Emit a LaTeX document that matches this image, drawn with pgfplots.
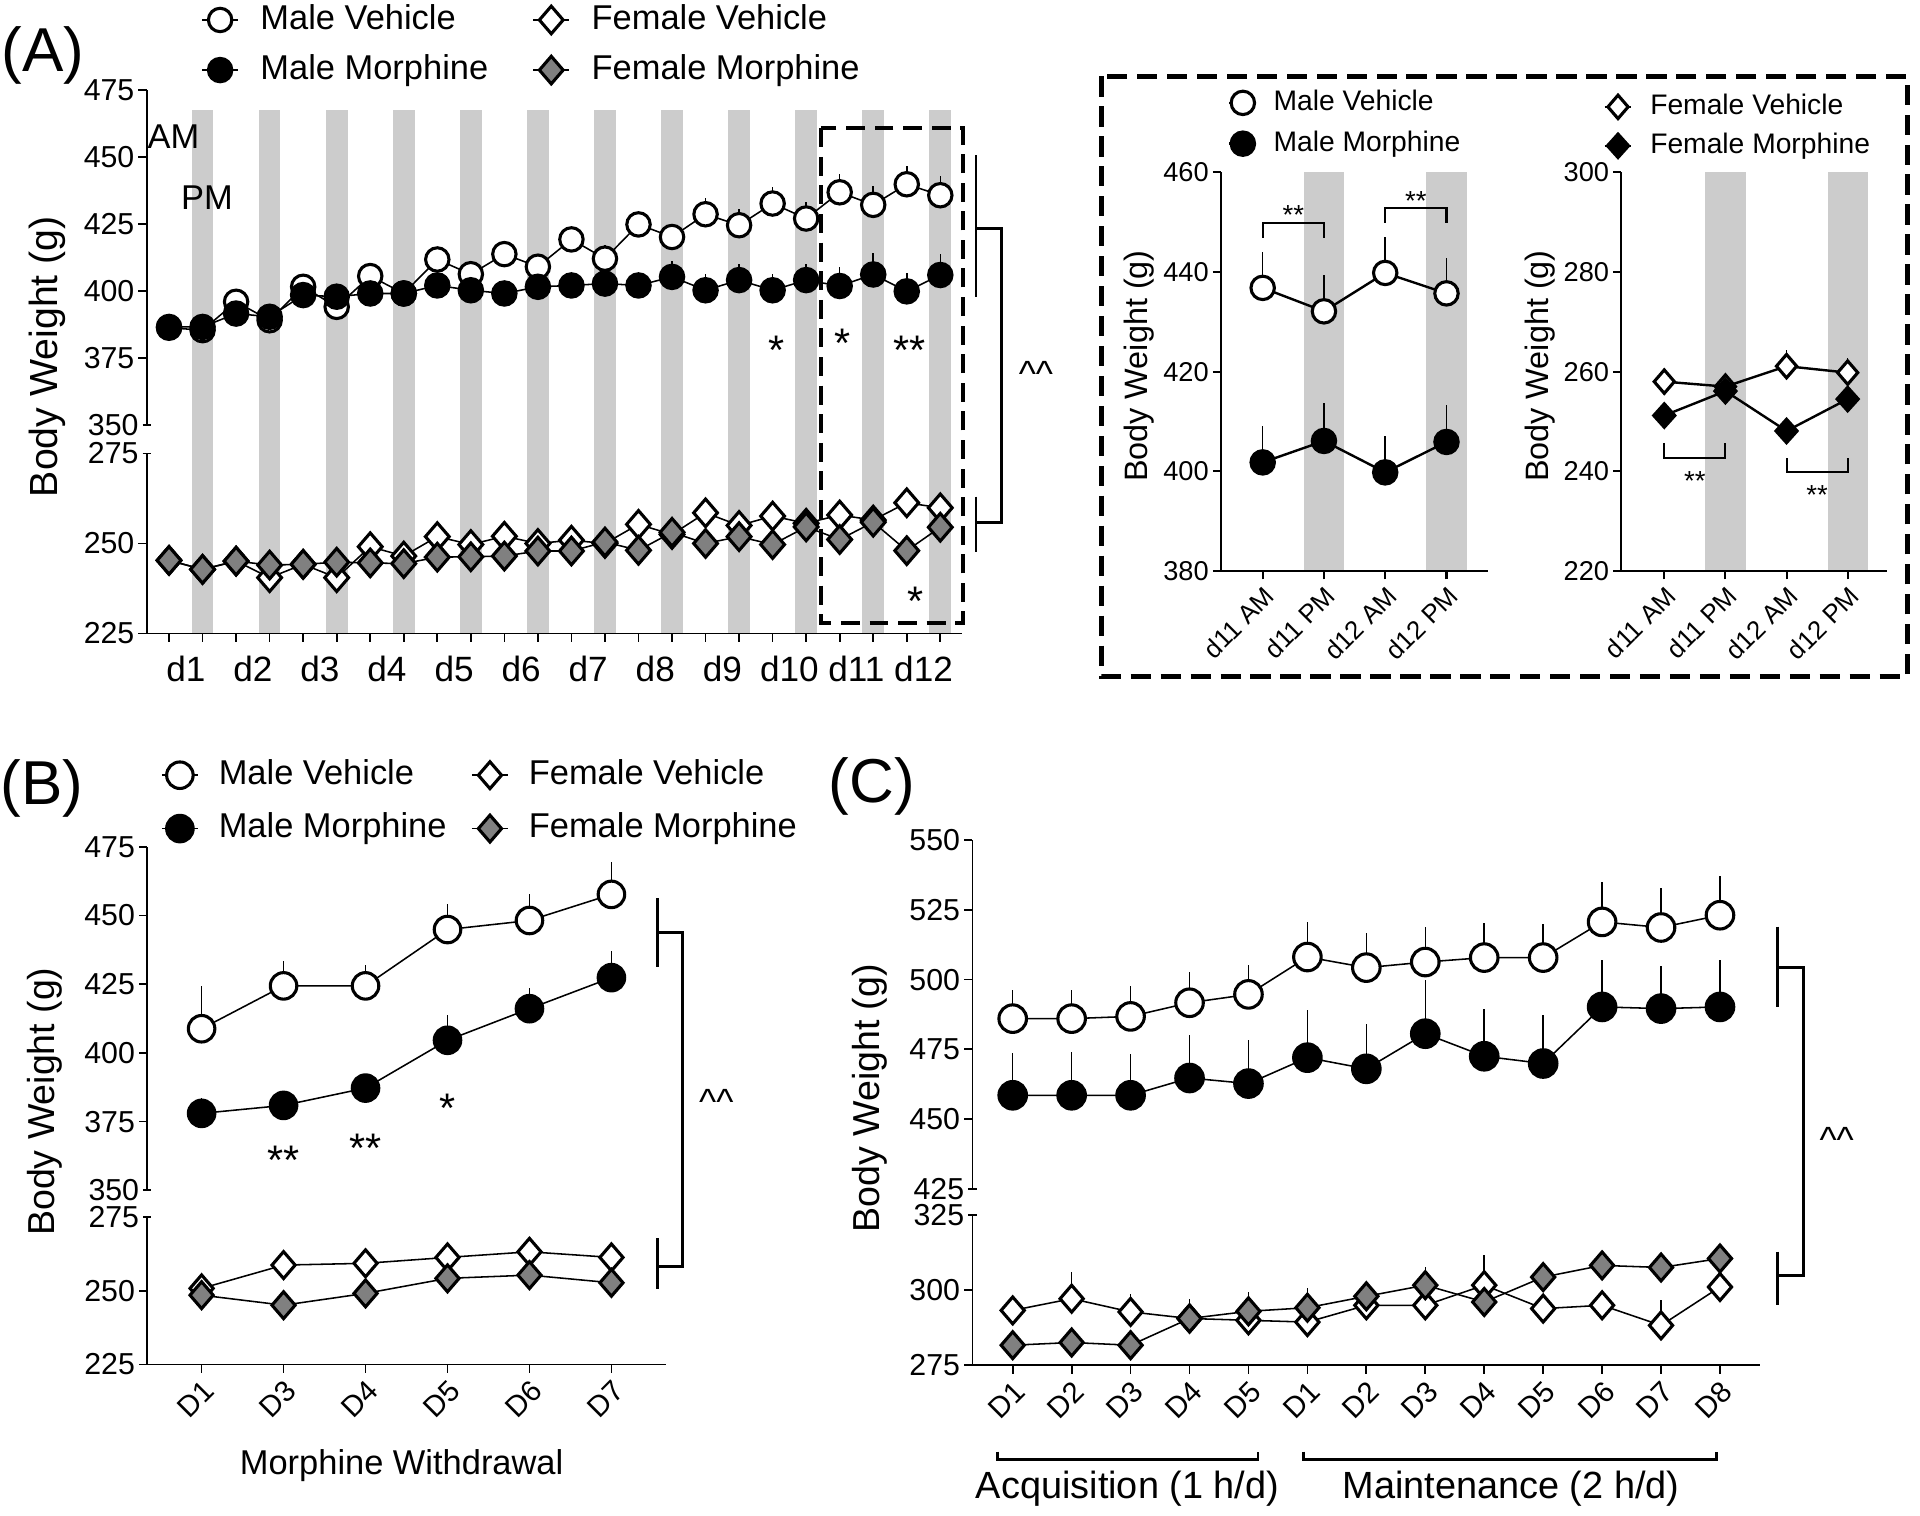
\documentclass[border=0pt]{standalone}
\usepackage{pgfplots}
\pgfplotsset{compat=1.18}
\usepackage{pgfplotstable}
\usepackage{fontspec}
\setmainfont{Liberation Sans}

\definecolor{band}{RGB}{204,204,204}
\definecolor{fmgray}{RGB}{128,128,128}
\newcommand{\fs}[1]{\fontsize{#1}{#1}\selectfont}

% (A) body weight, 12 days x AM/PM
\pgfplotstableread{
x  mv    mve mm    mme fv    fm
1  386.2 2   386.5 2   245.3 245.3
2  385.3 2   386.5 2   242.8 242.8
3  395.9 2   391.5 2   245.1 245.1
4  389.0 2   390.3 2   240.5 244.0
5  401.5 3   398.4 3   244.2 244.2
6  394.0 3   397.8 3   240.5 244.8
7  405.5 3   399.0 3   249.1 244.6
8  399.0 3   399.0 3   246.5 244.4
9  411.7 4   402.0 4   251.9 246.2
10 406.2 4   400.2 4   249.7 246.3
11 413.7 4   399.0 4   252.0 246.5
12 409.0 4   401.5 4   250.0 247.9
13 419.2 5   402.0 5   250.9 247.9
14 412.0 5   402.7 5   250.0 250.4
15 424.8 5   402.0 5   255.3 248.1
16 420.1 5   405.2 6   252.5 253.1
17 428.6 6   400.2 6   258.5 250.0
18 424.5 6   404.0 6   255.0 251.9
19 432.6 6   400.2 6   257.6 249.7
20 427.0 6   404.0 6   255.6 254.6
21 436.8 7   401.8 7   257.9 251.1
22 432.1 7   406.1 8   256.5 255.9
23 439.8 7   399.8 7   261.3 248.0
24 435.7 7   405.9 8   259.9 254.5
}\dataA

% inset, d11-d12
\pgfplotstableread{
x mv    mve mm    mme fv    fve fm    fme
1 436.8 7.2 401.8 7.2 258.0 2.5 251.2 2.0
2 432.1 7.2 406.1 7.6 257.0 2.5 256.1 2.0
3 439.8 7.3 399.8 7.2 261.1 3.3 248.1 2.0
4 435.7 7.1 405.9 7.5 259.8 2.9 254.5 2.5
}\dataI

% (B) withdrawal
\pgfplotstableread{
x mv    mve  mm    mme fv    fm
1 408.8 15.6 378.0 5.5 250.8 248.5
2 424.4 9.1  380.9 3.0 258.7 245.1
3 424.4 7.6  387.2 3.0 259.3 249.1
4 444.9 9.4  404.6 9.1 261.3 254.2
5 448.2 9.7  416.1 7.7 263.2 255.3
6 457.7 11.8 427.4 9.8 261.3 252.7
}\dataB

% (C) self-administration
\pgfplotstableread{
x  mv    mve  mm    mme  fv    fve  fm    fme
1  486.0 10.4 458.5 15.3 293.3 2.0  281.7 2.0
2  486.0 10.4 458.5 15.5 297.2 8.9  282.6 3.0
3  486.8 10.8 458.5 14.9 292.8 6.1  281.7 2.0
4  491.7 11.1 464.7 15.3 290.6 2.0  290.6 6.6
5  494.7 10.7 462.7 15.8 290.0 3.0  293.0 6.4
6  508.1 12.6 472.0 17.0 289.4 2.0  294.2 6.7
7  504.3 12.4 468.0 16.2 295.0 3.0  298.0 3.7
8  506.3 12.6 480.6 19.2 295.0 3.0  301.7 5.9
9  507.9 12.4 472.5 17.1 301.7 10.0 296.1 2.0
10 507.9 12.2 469.9 17.3 293.9 2.0  304.4 3.0
11 520.7 14.3 490.2 16.7 295.0 2.0  308.3 2.0
12 518.7 14.0 489.6 15.2 288.3 8.4  307.6 2.0
13 523.1 14.0 490.2 17.0 301.1 2.0  310.6 2.0
}\dataC

\pgfplotsset{
  every axis/.append style={scale only axis, clip=false,
    axis line style={line width=0.5pt},
    tick align=outside, major tick length=2.4pt,
    major tick style={black, line width=0.5pt},
    /pgf/number format/assume math mode=true,
    y tick label style={font=\fs{8.8}, inner sep=1pt},
    legend cell align=left},
  mvS/.style={black, line width=0.45pt, mark=*, mark size=#1,
    mark options={fill=white, line width=0.9pt}},
  mvS/.default=3.4pt,
  mmS/.style={black, line width=0.45pt, mark=*, mark size=#1,
    mark options={fill=black, line width=0.9pt}},
  mmS/.default=3.4pt,
  fvS/.style={black, line width=0.45pt, mark=diamond*, mark size=#1,
    mark options={fill=white, line width=0.9pt, xscale=1.15}},
  fvS/.default=4pt,
  fmS/.style={black, line width=0.45pt, mark=diamond*, mark size=#1,
    mark options={fill=fmgray, line width=0.9pt, xscale=1.15}},
  fmS/.default=4pt,
  fmiS/.style={black, line width=0.7pt, mark=diamond*, mark size=3.4pt,
    mark options={fill=black, line width=0.9pt, xscale=1.2}},
  errS/.style={only marks, mark=none, forget plot,
    error bars/.cd, y dir=plus, y explicit, error mark=none,
    error bar style={black, line width=0.45pt}},
}
\tikzset{
  star/.style={font=\fs{12}, anchor=base, yshift=-7pt, inner sep=0pt},
  istar/.style={font=\fs{8}, anchor=base, yshift=-4.6pt, inner sep=0pt},
  hat/.style={font=\fs{10.6}, anchor=base, yshift=-5.5pt, inner sep=0pt},
}

\begin{document}
\begin{tikzpicture}[x=0.0125cm, y=-0.0125cm]
\useasboundingbox (0,0) rectangle (1568,1238);

% ---------------- (A) lower part
\begin{axis}[at={(1.4975cm,-4.6275cm)}, anchor=north west, width=8.32cm, height=1.8375cm,
  axis x line*=bottom, axis y line*=left, axis on top,
  xmin=0.335, xmax=24.647, ymin=225, ymax=275,
  ytick={225,250}, extra y ticks={275}, extra y tick style={tick align=center},
  xtick={1,...,24}, xticklabels={},
  extra x ticks={1.5,3.5,...,23.5},
  extra x tick labels={d1,d2,d3,d4,d5,d6,d7,d8,d9,d10,d11,d12},
  extra x tick style={major tick length=0pt},
  x tick label style={font=\fs{10.2}, yshift=-3pt}]
\addplot[draw=band, line width=6.3pt, unbounded coords=jump, forget plot] coordinates {
 (2,225) (2,370.4) (3,nan) (4,225) (4,370.4) (5,nan) (6,225) (6,370.4) (7,nan)
 (8,225) (8,370.4) (9,nan) (10,225) (10,370.4) (11,nan) (12,225) (12,370.4) (13,nan)
 (14,225) (14,370.4) (15,nan) (16,225) (16,370.4) (17,nan) (18,225) (18,370.4) (19,nan)
 (20,225) (20,370.4) (21,nan) (22,225) (22,370.4) (23,nan) (24,225) (24,370.4)};
\addplot[fvS] table[x=x,y=fv]{\dataA};
\addplot[fmS] table[x=x,y=fm]{\dataA};
\node[star] at (axis cs:23.26,236.8) {*};
\end{axis}

% ---------------- (A) upper part
\begin{axis}[at={(1.4975cm,-0.91875cm)}, anchor=north west, width=8.32cm, height=3.415cm,
  axis x line=none, axis y line*=left,
  xmin=0.335, xmax=24.647, ymin=350, ymax=475,
  ytick={375,400,...,475}, extra y ticks={350}, extra y tick style={tick align=center},
  legend columns=2,
  legend image code/.code={\draw[mark repeat=2,mark phase=2,#1] plot coordinates {(0cm,0cm) (0.185cm,0cm) (0.37cm,0cm)};},
  legend style={draw=none, fill=none, at={(axis description cs:0.066,1.1345)}, anchor=west,
    font=\fs{10}, inner sep=0pt, row sep=4.75pt,
    nodes={inner sep=0pt, text height=7.6pt, text depth=2.2pt},
    /tikz/every odd column/.append style={column sep=0.219cm},
    /tikz/every even column/.append style={column sep=0.45cm}}]
\addlegendimage{mvS}\addlegendentry{Male Vehicle}
\addlegendimage{fvS}\addlegendentry{Female Vehicle}
\addlegendimage{mmS}\addlegendentry{Male Morphine}
\addlegendimage{fmS}\addlegendentry{Female Morphine}
\addplot[errS] table[x=x,y=mv,y error=mve]{\dataA};
\addplot[mvS, forget plot] table[x=x,y=mv]{\dataA};
\addplot[errS] table[x=x,y=mm,y error=mme]{\dataA};
\addplot[mmS, forget plot] table[x=x,y=mm]{\dataA};
\node[font=\fs{10}] at (axis cs:1.13,457.6) {AM};
\node[font=\fs{10}] at (axis cs:2.13,434.8) {PM};
\node[star] at (axis cs:19.13,381.5) {*};
\node[star] at (axis cs:21.07,384) {*};
\node[star] at (axis cs:23.07,381.5) {**};
\end{axis}

\node[rotate=90, font=\fs{11.4}] at (38.7,291.3) {Body Weight (g)};
\node[font=\fs{18}] at (35,45) {(A)};
\draw[line width=1.2pt, dash pattern=on 5.5pt off 2.8pt] (670.3,104.8) rectangle (786.5,508.5);
\draw[line width=0.8pt] (797,126.6) -- (797,242.2) (797,186.4) -- (818,186.4) -- (818,426.9) -- (797,426.9) (797,405.6) -- (797,450.5);
\node[hat] at (846,300) {\textasciicircum\textasciicircum};

% ---------------- inset, males
\begin{axis}[at={(12.4625cm,-1.7575cm)}, anchor=north west, width=2.721cm, height=4.071cm,
  axis x line*=bottom, axis y line*=left, axis on top,
  xmin=0.322, xmax=4.674, ymin=380, ymax=460,
  ytick={380,400,...,460}, xtick={1,2,3,4},
  xticklabels={d11 AM,d11 PM,d12 AM,d12 PM},
  axis line style={line width=0.6pt}, major tick style={line width=0.6pt},
  y tick label style={font=\fs{7.9}},
  x tick label style={font=\fs{7.5}, rotate=45, anchor=north east, inner sep=1pt},
  legend image code/.code={\draw[mark repeat=2,mark phase=2,#1] plot coordinates {(0cm,0cm) (0.137cm,0cm) (0.274cm,0cm)};},
  legend style={draw=none, fill=none, at={(axis description cs:0.024,1.1227)}, anchor=west,
    font=\fs{8.2}, inner sep=0pt, row sep=3.85pt,
    nodes={inner sep=0pt, text height=6.2pt, text depth=1.8pt},
    /tikz/every odd column/.append style={column sep=0.164cm}}]
\addplot[draw=band, line width=11.7pt, unbounded coords=jump, forget plot] coordinates {
 (2,380) (2,460) (3,nan) (4,380) (4,460)};
\addlegendimage{mvS, line width=0.7pt}\addlegendentry{Male Vehicle}
\addlegendimage{mmS, line width=0.7pt}\addlegendentry{Male Morphine}
\addplot[errS] table[x=x,y=mv,y error=mve]{\dataI};
\addplot[mvS, line width=0.7pt, forget plot] table[x=x,y=mv]{\dataI};
\addplot[errS] table[x=x,y=mm,y error=mme]{\dataI};
\addplot[mmS, line width=0.7pt, forget plot] table[x=x,y=mm]{\dataI};
\draw[line width=0.6pt] (axis cs:1,446.9) -- (axis cs:1,449.9) -- (axis cs:2,449.9) -- (axis cs:2,446.9);
\node[istar] at (axis cs:1.5,452.6) {**};
\draw[line width=0.6pt] (axis cs:3,449.9) -- (axis cs:3,452.9) -- (axis cs:4,452.9) -- (axis cs:4,449.9);
\node[istar] at (axis cs:3.5,455.5) {**};
\end{axis}
\node[rotate=90, font=\fs{9.4}] at (930,299) {Body Weight (g)};

% ---------------- inset, females
\begin{axis}[at={(16.5475cm,-1.7575cm)}, anchor=north west, width=2.7075cm, height=4.071cm,
  axis x line*=bottom, axis y line*=left, axis on top,
  xmin=0.299, xmax=4.639, ymin=220, ymax=300,
  ytick={220,240,...,300}, xtick={1,2,3,4},
  xticklabels={d11 AM,d11 PM,d12 AM,d12 PM},
  axis line style={line width=0.6pt}, major tick style={line width=0.6pt},
  y tick label style={font=\fs{7.9}},
  x tick label style={font=\fs{7.5}, rotate=45, anchor=north east, inner sep=1pt},
  legend image code/.code={\draw[mark repeat=2,mark phase=2,#1] plot coordinates {(0cm,0cm) (0.137cm,0cm) (0.274cm,0cm)};},
  legend style={draw=none, fill=none, at={(axis description cs:-0.0706,1.115)}, anchor=west,
    font=\fs{8.2}, inner sep=0pt, row sep=3.3pt,
    nodes={inner sep=0pt, text height=6.2pt, text depth=1.8pt},
    /tikz/every odd column/.append style={column sep=0.18cm}}]
\addplot[draw=band, line width=11.7pt, unbounded coords=jump, forget plot] coordinates {
 (2,220) (2,300) (3,nan) (4,220) (4,300)};
\addlegendimage{fvS=3.4pt, line width=0.7pt}\addlegendentry{Female Vehicle}
\addlegendimage{fmiS}\addlegendentry{Female Morphine}
\addplot[errS] table[x=x,y=fv,y error=fve]{\dataI};
\addplot[fvS=3.4pt, line width=0.7pt, forget plot] table[x=x,y=fv]{\dataI};
\addplot[errS] table[x=x,y=fm,y error=fme]{\dataI};
\addplot[fmiS, forget plot] table[x=x,y=fm]{\dataI};
\draw[line width=0.6pt] (axis cs:1,245.7) -- (axis cs:1,242.6) -- (axis cs:2,242.6) -- (axis cs:2,245.7);
\node[istar] at (axis cs:1.5,239.3) {**};
\draw[line width=0.6pt] (axis cs:3,242.6) -- (axis cs:3,239.8) -- (axis cs:4,239.8) -- (axis cs:4,242.6);
\node[istar] at (axis cs:3.5,236.5) {**};
\end{axis}
\node[rotate=90, font=\fs{9.4}] at (1258,299) {Body Weight (g)};
\draw[line width=1.4pt, dash pattern=on 5.9pt off 2.8pt] (899.5,62.3) rectangle (1557.8,552.3);

% ---------------- (B)
\begin{axis}[at={(1.50375cm,-12.42cm)}, anchor=north west, width=5.2925cm, height=1.505cm,
  axis x line*=bottom, axis y line*=left,
  xmin=0.338, xmax=6.665, ymin=225, ymax=275,
  ytick={225,250}, extra y ticks={275}, extra y tick style={tick align=center},
  xtick={1,...,6}, xticklabels={D1,D3,D4,D5,D6,D7},
  x tick label style={font=\fs{8.5}, rotate=45, anchor=north east, inner sep=1pt}]
\addplot[fvS=3.9pt] table[x=x,y=fv]{\dataB};
\addplot[fmS=3.9pt] table[x=x,y=fm]{\dataB};
\end{axis}

\begin{axis}[at={(1.50375cm,-8.6425cm)}, anchor=north west, width=5.2925cm, height=3.505cm,
  axis x line=none, axis y line*=left,
  xmin=0.338, xmax=6.665, ymin=350, ymax=475,
  ytick={375,400,...,475}, extra y ticks={350}, extra y tick style={tick align=center},
  legend columns=2,
  legend image code/.code={\draw[mark repeat=2,mark phase=2,#1] plot coordinates {(0cm,0cm) (0.185cm,0cm) (0.37cm,0cm)};},
  legend style={draw=none, fill=none, at={(axis description cs:0.025,1.1309)}, anchor=west,
    font=\fs{10}, inner sep=0pt, row sep=5.7pt,
    nodes={inner sep=0pt, text height=7.6pt, text depth=2.2pt},
    /tikz/every odd column/.append style={column sep=0.204cm},
    /tikz/every even column/.append style={column sep=0.25cm}}]
\addlegendimage{mvS=3.85pt}\addlegendentry{Male Vehicle}
\addlegendimage{fvS=3.9pt}\addlegendentry{Female Vehicle}
\addlegendimage{mmS=3.85pt}\addlegendentry{Male Morphine}
\addlegendimage{fmS=3.9pt}\addlegendentry{Female Morphine}
\addplot[errS] table[x=x,y=mv,y error=mve]{\dataB};
\addplot[mvS=3.85pt, forget plot] table[x=x,y=mv]{\dataB};
\addplot[errS] table[x=x,y=mm,y error=mme]{\dataB};
\addplot[mmS=3.85pt, forget plot] table[x=x,y=mm]{\dataB};
\node[star] at (axis cs:2,364.6) {**};
\node[star] at (axis cs:3,368.9) {**};
\node[star] at (axis cs:4,383.5) {*};
\end{axis}

\node[rotate=90, font=\fs{10.9}] at (36.7,899.7) {Body Weight (g)};
\node[font=\fs{18}] at (34.5,644) {(B)};
\node[font=\fs{10}] at (328,1197) {Morphine Withdrawal};
\draw[line width=0.8pt] (536.8,733.6) -- (536.8,789.4) (536.8,761.7) -- (557.5,761.7) -- (557.5,1034.4) -- (536.8,1034.4) (536.8,1011.3) -- (536.8,1053);
\node[hat] at (585,894.3) {\textasciicircum\textasciicircum};

% ---------------- (C)
\begin{axis}[at={(9.92375cm,-12.4025cm)}, anchor=north west, width=8.041cm, height=1.531cm,
  axis x line*=bottom, axis y line*=left,
  xmin=0.316, xmax=13.684, ymin=275, ymax=325,
  ytick={275,300}, extra y ticks={325}, extra y tick style={tick align=center},
  xtick={1,...,13}, xticklabels={D1,D2,D3,D4,D5,D1,D2,D3,D4,D5,D6,D7,D8},
  x tick label style={font=\fs{8.5}, rotate=45, anchor=north east, inner sep=1pt}]
\addplot[errS] table[x=x,y=fv,y error=fve]{\dataC};
\addplot[fvS=3.9pt] table[x=x,y=fv]{\dataC};
\addplot[errS] table[x=x,y=fm,y error=fme]{\dataC};
\addplot[fmS=3.9pt] table[x=x,y=fm]{\dataC};
\end{axis}

\begin{axis}[at={(9.92375cm,-8.575cm)}, anchor=north west, width=8.041cm, height=3.556cm,
  axis x line=none, axis y line*=left,
  xmin=0.316, xmax=13.684, ymin=425, ymax=550,
  ytick={450,475,...,550}, extra y ticks={425}, extra y tick style={tick align=center}]
\addplot[errS] table[x=x,y=mv,y error=mve]{\dataC};
\addplot[mvS=4pt] table[x=x,y=mv]{\dataC};
\addplot[errS] table[x=x,y=mm,y error=mme]{\dataC};
\addplot[mmS=4pt] table[x=x,y=mm]{\dataC};
\end{axis}

\node[rotate=90, font=\fs{10.9}] at (710.6,897) {Body Weight (g)};
\node[font=\fs{18}] at (712,642) {(C)};
\draw[line width=0.8pt] (814.8,1185.5) -- (814.8,1191.8) -- (1027.3,1191.8) -- (1027.3,1185.5);
\draw[line width=0.8pt] (1064.8,1185.5) -- (1064.8,1191.8) -- (1401.8,1191.8) -- (1401.8,1185.5);
\node[font=\fs{11}] at (920.8,1215.5) {Acquisition (1 h/d)};
\node[font=\fs{11}] at (1234,1215.5) {Maintenance (2 h/d)};
\draw[line width=0.8pt] (1451.5,756.8) -- (1451.5,822.1) (1451.5,790.3) -- (1472.7,790.3) -- (1472.7,1041.8) -- (1451.5,1041.8) (1451.5,1022.2) -- (1451.5,1065.7);
\node[hat] at (1500,925.5) {\textasciicircum\textasciicircum};

\end{tikzpicture}
\end{document}
